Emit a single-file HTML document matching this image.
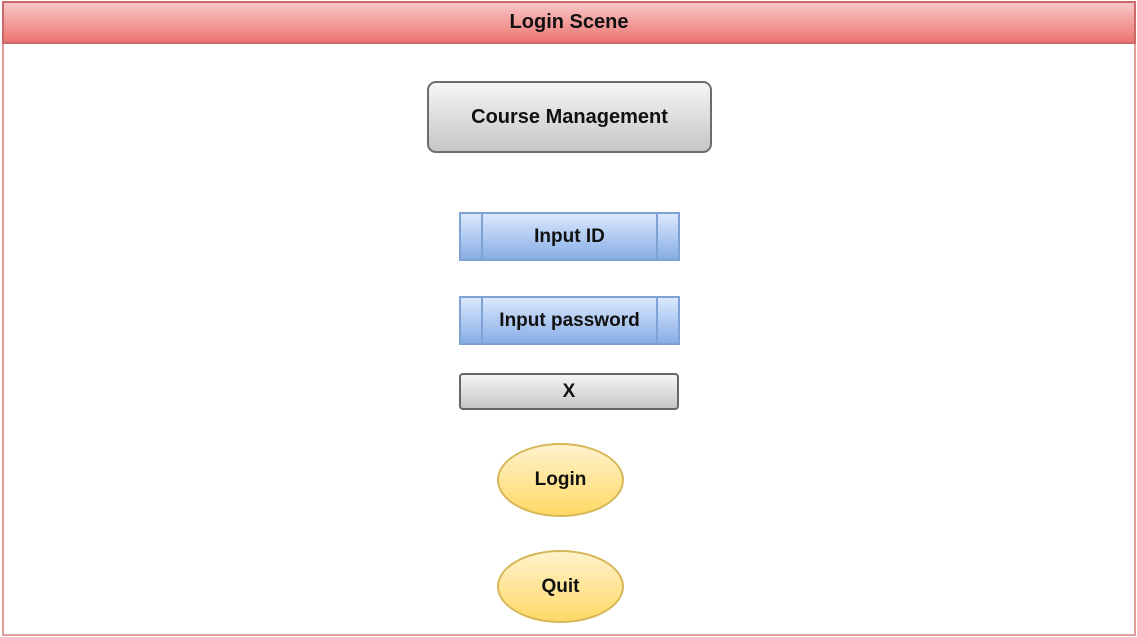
<!DOCTYPE html>
<html><head><meta charset="utf-8"><style>
html,body{margin:0;padding:0;background:#fff;width:1137px;height:637px;overflow:hidden;position:relative;font-family:"Liberation Sans",Arial,sans-serif;}
.a{position:absolute;box-sizing:border-box;display:flex;align-items:center;justify-content:center;color:#111;font-size:19px;font-weight:bold;}
</style></head><body>
<div class="a" style="left:2px;top:1px;width:1134px;height:635px;border:2px solid #e39e9c;"></div>
<div class="a" style="left:2px;top:1px;width:1134px;height:43px;border:2px solid #c9696a;background:linear-gradient(#f8c6c5,#ec7672);font-size:20px;">Login Scene</div>
<div class="a" style="left:427px;top:81px;width:285px;height:72px;border:2px solid #6c6c6c;border-radius:9px;background:linear-gradient(#f5f5f5,#c6c6c6);font-size:20px;">Course Management</div>
<div class="a" style="left:459px;top:212px;width:221px;height:49px;border:2px solid #7ea2d4;background:linear-gradient(#dae8fc,#88aee6);">Input ID
<div style="position:absolute;left:20px;top:0;bottom:0;border-left:2px solid #7ea2d4"></div>
<div style="position:absolute;right:20px;top:0;bottom:0;border-left:2px solid #7ea2d4"></div></div>
<div class="a" style="left:459px;top:296px;width:221px;height:49px;border:2px solid #7ea2d4;background:linear-gradient(#dae8fc,#88aee6);">Input password
<div style="position:absolute;left:20px;top:0;bottom:0;border-left:2px solid #7ea2d4"></div>
<div style="position:absolute;right:20px;top:0;bottom:0;border-left:2px solid #7ea2d4"></div></div>
<div class="a" style="left:459px;top:373px;width:220px;height:37px;border:2px solid #666;border-radius:4px;background:linear-gradient(#f5f5f5,#c6c6c6);">X</div>
<div class="a" style="left:497px;top:443px;width:127px;height:74px;border:2px solid #d6b656;border-radius:50%;background:linear-gradient(#fff2cc,#ffd966);">Login</div>
<div class="a" style="left:497px;top:550px;width:127px;height:73px;border:2px solid #d6b656;border-radius:50%;background:linear-gradient(#fff2cc,#ffd966);">Quit</div>
</body></html>
